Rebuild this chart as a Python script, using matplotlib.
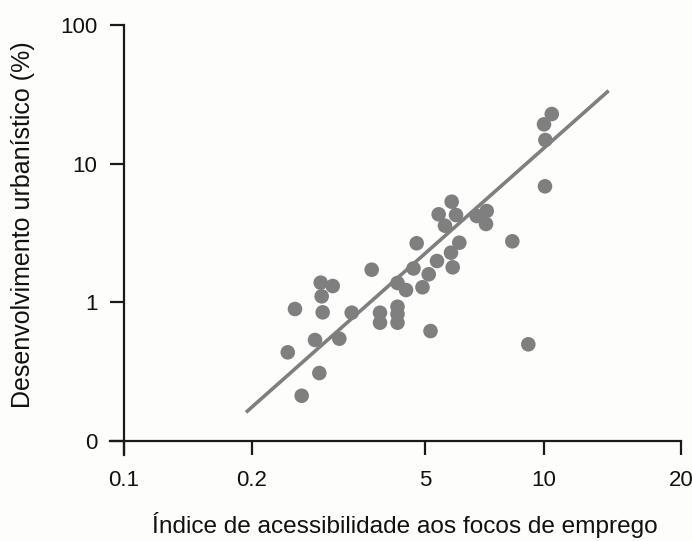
import numpy as np
import matplotlib
matplotlib.use("Agg")
import matplotlib.pyplot as plt

# ---- data ----
x_ticks = [0.1, 0.2, 5, 10, 20]
x_tick_labels = ["0.1", "0.2", "5", "10", "20"]
y_ticks = [0.1, 1, 10, 100]
y_tick_labels = ["0", "1", "10", "100"]

x_vals = [0.389, 0.445, 0.504, 0.646, 0.700, 0.718, 0.731, 0.745, 0.898, 1.015,
          1.278, 1.854, 2.164, 2.164, 2.998, 2.998, 2.998, 2.998, 3.51, 4.036,
          4.772, 5.11, 5.163, 5.362, 5.875, 5.817, 4.283, 6.106, 5.415, 5.617,
          5.84, 5.99, 6.757, 7.163, 7.133, 8.315, 9.127, 10.05, 10.07, 10.0, 10.4]
y_vals = [0.436, 0.895, 0.212, 0.535, 0.309, 1.386, 1.105, 0.847, 1.311, 0.547,
          0.842, 1.719, 0.842, 0.713, 1.379, 0.930, 0.824, 0.713, 1.227, 1.754,
          1.284, 1.593, 0.621, 1.986, 1.789, 2.28, 2.666, 2.692, 4.313, 3.569,
          5.318, 4.264, 4.193, 4.557, 3.672, 2.755, 0.498, 6.866, 14.81, 19.22, 22.8]

fit_x = [0.1936, 13.87]
fit_y = [0.161, 33.6]

# ---- axis scale: piecewise log through the labelled ticks ----
_tick_pos = np.array([124.0, 252.0, 425.0, 544.0, 681.0])
_L = np.log10(np.array(x_ticks, dtype=float))
_s0 = (_tick_pos[1] - _tick_pos[0]) / (_L[1] - _L[0])
_s1 = (_tick_pos[-1] - _tick_pos[-2]) / (_L[-1] - _L[-2])
_Lext = np.concatenate([[_L[0] - 3], _L, [_L[-1] + 3]])
_Pext = np.concatenate([[_tick_pos[0] - 3 * _s0], _tick_pos, [_tick_pos[-1] + 3 * _s1]])


def _fwd(x):
    x = np.asarray(x, dtype=float)
    return np.interp(np.log10(np.clip(x, 1e-9, None)), _Lext, _Pext)


def _inv(p):
    p = np.asarray(p, dtype=float)
    return 10 ** np.interp(p, _Pext, _Lext)


plt.rcParams['font.family'] = ['Liberation Sans', 'DejaVu Sans']

bg = '#fdfdfb'
fig = plt.figure(figsize=(6.92, 5.41), dpi=100, facecolor=bg)
ax = fig.add_axes([110 / 692, (541 - 455) / 541, 571 / 692, 430 / 541])
ax.set_facecolor(bg)

ax.set_xscale('function', functions=(_fwd, _inv))
ax.set_yscale('log')
ax.set_xlim(float(_inv(110.0)), 20)
ax.set_ylim(0.1 * 10 ** (-14 / 138.67), 100)

grey = '#7f7f7f'
ax.plot(fit_x, fit_y, color=grey, lw=2.6, solid_capstyle='butt', zorder=2)
ax.scatter(x_vals, y_vals, s=110, color=grey, edgecolors='none', zorder=3)

for side in ['top', 'right']:
    ax.spines[side].set_visible(False)
ax.spines['left'].set_position(('data', 0.1))
ax.spines['bottom'].set_position(('data', 0.1))
axc = '#1a1a1a'
for side in ['left', 'bottom']:
    ax.spines[side].set_linewidth(1.6)
    ax.spines[side].set_color(axc)

ax.set_xticks(x_ticks)
ax.set_xticklabels(x_tick_labels)
ax.set_yticks(y_ticks)
ax.set_yticklabels(y_tick_labels)
ax.xaxis.set_minor_locator(matplotlib.ticker.NullLocator())
ax.yaxis.set_minor_locator(matplotlib.ticker.NullLocator())
ax.tick_params(axis='both', direction='out', length=10, width=1.6, color=axc,
               labelsize=16, labelcolor='#111111')
ax.tick_params(axis='x', pad=11)
ax.tick_params(axis='y', pad=9)

ax.set_xlabel('Índice de acessibilidade aos focos de emprego', fontsize=17.6,
              color='#111111', labelpad=15, x=0.516)
ax.set_ylabel('Desenvolvimento urbanístico (%)', fontsize=18, color='#111111',
              labelpad=18, y=0.535)

fig.savefig('out.png', dpi=100, facecolor=bg)
